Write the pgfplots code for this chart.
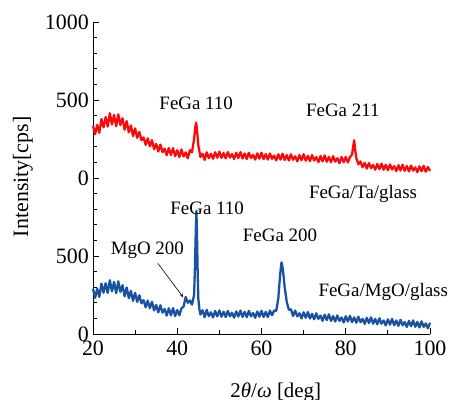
\documentclass[border=0pt]{standalone}
\usepackage{fontspec}
\setmainfont{Liberation Serif}
\usepackage{pgfplots}
\usepackage{pgfplotstable}
\pgfplotsset{compat=1.18}
\definecolor{xrdred}{RGB}{250,10,10}
\definecolor{xrdblue}{RGB}{25,82,160}

% FeGa/Ta/glass (plotted with +1000 offset)
\pgfplotstableread{
x y
20 335
20.5 280
21 340
21.5 290
22 378
22.5 325
23 390
23.5 330
24 415
24.5 343
25 404
25.5 332
26 408
26.5 340
27 383
27.5 310
28 365
28.5 293
29 337
29.5 269
30 318
30.5 257
31 296
31.5 243
32 260
32.5 213
33 254
33.5 203
34 243
34.5 185
35 218
35.5 170
36 214
36.5 166
37 188
37.5 146
38 192
38.5 147
39 192
39.5 140
40 178
40.5 134
41 183
41.5 138
42 164
42.5 126
43 179
43.5 165
44 250
44.25 320
44.5 355
44.75 290
45 210
45.5 135
46 155
46.5 116
47 165
47.5 127
48 155
48.5 123
49 165
49.5 130
50 169
50.5 129
51 160
51.5 126
52 166
52.5 131
53 153
53.5 122
54 161
54.5 128
55 166
55.5 125
56 157
56.5 122
57 162
57.5 128
58 149
58.5 118
59 158
59.5 124
60 162
60.5 121
61 153
61.5 118
62 157
62.5 123
63 144
63.5 113
64 152
64.5 118
65 156
65.5 115
66 147
66.5 112
67 152
67.5 117
68 139
68.5 107
69 147
69.5 114
70 152
70.5 111
71 142
71.5 108
72 147
72.5 112
73 134
73.5 102
74 141
74.5 107
75 145
75.5 104
76 135
76.5 101
77 140
77.5 105
78 127
78.5 95
79 135
79.5 101
80 135
80.5 100
81 134
81.5 150
81.75 200
82 242
82.25 180
82.5 130
83 88
83.5 106
84 69
84.5 97
85 60
85.5 96
86 63
86.5 84
87 53
87.5 90
88 57
88.5 92
89 53
89.5 85
90 50
90.5 87
91 54
91.5 76
92 45
92.5 82
93 49
93.5 85
94 46
94.5 77
95 42
95.5 80
96 47
96.5 68
97 38
97.5 75
98 43
98.5 78
99 40
99.5 71
100 45
}\tadata

% FeGa/MgO/glass
\pgfplotstableread{
x y
20 290
20.5 232
21 290
21.5 238
22 323
22.5 265
23 325
23.5 263
24 345
24.5 273
25 334
25.5 262
26 338
26.5 270
27 313
27.5 242
28 298
28.5 230
29 277
29.5 212
30 264
30.5 206
31 248
31.5 197
32 217
32.5 171
33 214
33.5 165
34 207
34.5 151
35 186
35.5 139
36 184
36.5 137
37 160
37.5 118
38 165
38.5 120
39 166
39.5 115
40 154
40.5 120
41 165
41.5 175
42 237
42.5 200
43 215
43.5 188
44 250
44.2 430
44.4 660
44.55 790
44.7 620
44.85 390
45 230
45.25 160
45.5 125
46 152
46.5 108
47 155
47.5 114
48 139
48.5 106
49 148
49.5 113
50 151
50.5 111
51 143
51.5 109
52 148
52.5 114
53 136
53.5 105
54 145
54.5 112
55 150
55.5 110
56 142
56.5 108
57 148
57.5 113
58 135
58.5 104
59 144
59.5 111
60 149
60.5 109
61 142
61.5 109
62 150
62.5 120
63 150
63.5 148
64 230
64.25 320
64.5 400
64.75 460
65 430
65.25 370
65.5 300
66 205
66.5 155
67 158
67.5 115
68 150
68.5 113
69 133
69.5 100
70 139
70.5 104
71 141
71.5 99
72 130
72.5 94
73 133
73.5 97
74 118
74.5 85
75 124
75.5 89
76 126
76.5 84
77 115
77.5 80
78 119
78.5 84
79 106
79.5 74
80 114
80.5 80
81 117
81.5 76
82 107
82.5 72
83 111
83.5 76
84 97
84.5 65
85 104
85.5 70
86 107
86.5 66
87 97
87.5 62
88 101
88.5 66
89 87
89.5 55
90 94
90.5 60
91 97
91.5 56
92 87
92.5 52
93 91
93.5 56
94 77
94.5 45
95 84
95.5 50
96 87
96.5 46
97 77
97.5 42
98 81
98.5 46
99 68
99.5 36
100 72
}\mgodata

\begin{document}
\begin{tikzpicture}
\begin{axis}[
  scale only axis,
  width=337bp, height=312bp,
  xmin=20, xmax=100,
  ymin=0, ymax=2000,
  axis lines*=left,
  axis line style={line width=0.8pt},
  tick style={line width=0.8pt, black},
  tick align=inside,
  major tick length=6bp,
  minor tick length=4bp,
  xtick={20,40,60,80,100},
  minor xtick={30,50,70,90},
  ytick={0,500,1000,1500,2000},
  yticklabels={0,500,0,500,1000},
  minor ytick={100,200,300,400,600,700,800,900,1100,1200,1300,1400,1600,1700,1800,1900},
  /pgf/number format/assume math mode=true,
  tick label style={font=\fontsize{22}{22}\selectfont},
  xticklabel style={yshift=-6bp, inner sep=1pt},
  yticklabel style={xshift=-3bp, inner sep=1pt},
  clip=false,
]
\addplot[xrdblue, line width=2.3pt, line join=round] table[x=x, y=y] {\mgodata};
\addplot[xrdred, line width=2.3pt, line join=round] table[x=x, y expr=\thisrow{y}+1000] {\tadata};

\begin{scope}[every node/.style={font=\fontsize{19}{19}\selectfont, inner sep=0pt}]
\node at (axis cs:44.5,1478) {FeGa 110};
\node at (axis cs:79.3,1434) {FeGa 211};
\node at (axis cs:84.1,900) {FeGa/Ta/glass};
\node at (axis cs:47.1,804) {FeGa 110};
\node at (axis cs:64.4,632) {FeGa 200};
\node at (axis cs:88.9,268) {FeGa/MgO/glass};
\node at (axis cs:32.9,536) {MgO 200};
\end{scope}
\draw[-stealth, line width=0.6pt] (axis cs:35.4,453) -- (axis cs:41.4,236);

\node[font=\fontsize{22}{22}\selectfont, rotate=90] at (axis cs:20,1008) [yshift=70bp] {Intensity[cps]};
\node[font=\fontsize{21}{21}\selectfont, anchor=base] at (axis cs:63.4,0) [yshift=-63bp] {2\textit{θ}/\textit{ω} [deg]};
\end{axis}
\pgfresetboundingbox
\path (-93bp,-66bp) rectangle (359bp,334bp);
\end{tikzpicture}
\end{document}
